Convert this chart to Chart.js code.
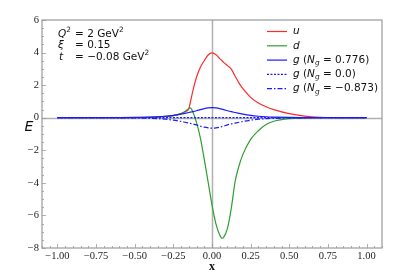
<!DOCTYPE html>
<html>
<head>
<meta charset="utf-8">
<script src="https://cdn.jsdelivr.net/npm/chart.js@4.4.1/dist/chart.umd.min.js"></script>
<style>
  body { margin: 0; background: #fff; }
  canvas { display: block; }
</style>
</head>
<body>
<canvas id="chart" width="420" height="280"></canvas>
<script>
const xs = [-1, -0.8, -0.6, -0.5, -0.4, -0.35, -0.3, -0.25, -0.2, -0.175, -0.15, -0.14, -0.125, -0.1, -0.075, -0.05, -0.025,
            0, 0.025, 0.05, 0.065, 0.075, 0.1, 0.125, 0.15, 0.175, 0.2, 0.25, 0.3, 0.35, 0.4, 0.5, 0.6, 0.7, 0.8, 1];

const uVals = [0, 0, 0, 0.01, 0.03, 0.05, 0.08, 0.13, 0.25, 0.36, 0.55, 0.95, 1.6, 2.5, 3.1, 3.5, 3.85,
               3.98, 3.88, 3.63, 3.5, 3.4, 3.2, 2.98, 2.55, 2.12, 1.78, 1.25, 0.9, 0.67, 0.5, 0.25, 0.1, 0.03, 0.01, 0];
const dVals = [0, 0, 0, 0.01, 0.03, 0.05, 0.08, 0.13, 0.25, 0.38, 0.57, 0.6, 0.38, -0.3, -1.25, -2.56, -3.95,
               -5.35, -6.5, -7.2, -7.4, -7.35, -6.8, -5.55, -3.9, -2.95, -2.25, -1.33, -0.8, -0.42, -0.22, -0.06, -0.02, 0, 0, 0];
const gPos = [0, 0, 0.005, 0.015, 0.04, 0.06, 0.09, 0.14, 0.22, 0.27, 0.32, 0.34, 0.37, 0.43, 0.5, 0.56, 0.6,
              0.62, 0.6, 0.56, 0.52, 0.5, 0.43, 0.37, 0.32, 0.27, 0.22, 0.14, 0.09, 0.06, 0.04, 0.015, 0.005, 0, 0, 0];
const gZero = xs.map(() => 0);
const gNeg = [0, 0, -0.005, -0.015, -0.04, -0.06, -0.09, -0.15, -0.23, -0.28, -0.33, -0.35, -0.38, -0.44, -0.52, -0.58, -0.62,
              -0.64, -0.62, -0.58, -0.54, -0.52, -0.44, -0.38, -0.33, -0.28, -0.23, -0.15, -0.09, -0.06, -0.04, -0.015, -0.005, 0, 0, 0];

const xTicks = [-1, -0.75, -0.5, -0.25, 0, 0.25, 0.5, 0.75, 1];
const yTicks = [-8, -6, -4, -2, 0, 2, 4, 6];

const RED = '#ff2a2a', GREEN = '#2e9e2e', BLUE = '#1a1aff';

function pts(vals) {
    return xs.map((x, i) => ({ x: x, y: vals[i] }));
}

const legendItems = [
    { color: RED, dash: [], parts: [['u', 'i']] },
    { color: GREEN, dash: [], parts: [['d', 'i']] },
    { color: BLUE, dash: [], parts: [['g', 'i'], [' (', 'n'], ['N', 'i'], ['g', 's'], [' = 0.776)', 'n']] },
    { color: BLUE, dash: [2, 1.5], parts: [['g', 'i'], [' (', 'n'], ['N', 'i'], ['g', 's'], [' = 0.0)', 'n']] },
    { color: BLUE, dash: [5, 2, 1.5, 2], parts: [['g', 'i'], [' (', 'n'], ['N', 'i'], ['g', 's'], [' = \u22120.873)', 'n']] }
];

function fmt(v, digits) {
    return v.toFixed(digits).replace('-', '\u2212');
}

// draws mixed italic / upright / subscript text, left aligned on a middle line
function drawParts(ctx, parts, x, y, size) {
    ctx.textBaseline = 'middle';
    ctx.textAlign = 'left';
    parts.forEach(p => {
        const txt = p[0], kind = p[1];
        let fs = size, dy = 0, style = '';
        if (kind === 'i') style = 'italic ';
        if (kind === 's') { style = 'italic '; fs = size * 0.7; dy = size * 0.3; }
        if (kind === 'p') { fs = size * 0.7; dy = -size * 0.35; }
        ctx.font = style + fs + 'px "DejaVu Sans"';
        ctx.fillText(txt, x, y + dy);
        x += ctx.measureText(txt).width;
    });
}

const decorPlugin = {
    id: 'decor',
    beforeDatasetsDraw(chart) {
        const ctx = chart.ctx, a = chart.chartArea;
        const xs_ = chart.scales.x, ys_ = chart.scales.y;
        ctx.save();
        ctx.strokeStyle = '#b0b0b0';
        ctx.lineWidth = 1.5;
        const x0 = Math.round(xs_.getPixelForValue(0)) + 0.5;
        const y0 = Math.round(ys_.getPixelForValue(0)) + 0.5;
        ctx.beginPath();
        ctx.moveTo(x0, a.top); ctx.lineTo(x0, a.bottom);
        ctx.moveTo(a.left, y0); ctx.lineTo(a.right, y0);
        ctx.stroke();
        ctx.restore();
    },
    afterDraw(chart) {
        const ctx = chart.ctx, a = chart.chartArea;
        const xs_ = chart.scales.x, ys_ = chart.scales.y;
        ctx.save();
        // frame
        ctx.strokeStyle = '#999';
        ctx.lineWidth = 1.2;
        ctx.strokeRect(a.left, a.top, a.right - a.left, a.bottom - a.top);

        // inward ticks, major and minor
        ctx.lineWidth = 0.8;
        ctx.beginPath();
        for (let k = -22; k <= 22; k++) {
            const v = k * 0.05;
            const px = Math.round(xs_.getPixelForValue(v)) + 0.5;
            const len = (k % 5 === 0) ? 4 : 2;
            ctx.moveTo(px, a.bottom); ctx.lineTo(px, a.bottom - len);
        }
        for (let k = -16; k <= 12; k++) {
            const v = k * 0.5;
            const py = Math.round(ys_.getPixelForValue(v)) + 0.5;
            const len = (k % 4 === 0) ? 4 : 2;
            ctx.moveTo(a.left, py); ctx.lineTo(a.left + len, py);
        }
        ctx.stroke();

        // annotation
        ctx.fillStyle = '#111';
        const fs = 10.5;
        drawParts(ctx, [['Q', 'i'], ['2', 'p']], 58, 34, fs);
        drawParts(ctx, [['= 2 GeV', 'n'], ['2', 'p']], 75, 34, fs);
        drawParts(ctx, [['\u03be', 'i']], 58, 45.5, fs);
        drawParts(ctx, [['= 0.15', 'n']], 75, 45.5, fs);
        drawParts(ctx, [['t', 'i']], 59, 57, fs);
        drawParts(ctx, [['= \u22120.08 GeV', 'n'], ['2', 'p']], 75, 57, fs);

        // legend
        legendItems.forEach((it, i) => {
            const y = 31.5 + i * 14.3;
            ctx.strokeStyle = it.color;
            ctx.lineWidth = 1.2;
            ctx.setLineDash(it.dash);
            ctx.beginPath();
            ctx.moveTo(267, y); ctx.lineTo(287, y);
            ctx.stroke();
            ctx.setLineDash([]);
            ctx.fillStyle = '#111';
            drawParts(ctx, it.parts, 293, y, 10.5);
        });

        // axis titles
        ctx.fillStyle = '#111';
        ctx.font = 'italic 14px "DejaVu Sans"';
        ctx.textAlign = 'center';
        ctx.textBaseline = 'middle';
        ctx.fillText('E', 29, 127);
        ctx.font = 'bold 12px "Liberation Serif"';
        ctx.fillText('x', xs_.getPixelForValue(0), 267);
        ctx.restore();
    }
};

const ctx = document.getElementById('chart').getContext('2d');
new Chart(ctx, {
    type: 'line',
    data: {
        datasets: [
            { label: 'u', data: pts(uVals), borderColor: RED, order: 5 },
            { label: 'd', data: pts(dVals), borderColor: GREEN, order: 4 },
            { label: 'g (Ng = 0.776)', data: pts(gPos), borderColor: BLUE, order: 3 },
            { label: 'g (Ng = 0.0)', data: pts(gZero), borderColor: BLUE, borderDash: [2, 1.5], order: 2 },
            { label: 'g (Ng = -0.873)', data: pts(gNeg), borderColor: BLUE, borderDash: [5, 2, 1.5, 2], order: 1 }
        ]
    },
    options: {
        responsive: false,
        animation: false,
        devicePixelRatio: 1,
        layout: { padding: { top: 20, right: 38, left: 0, bottom: 0 } },
        elements: {
            point: { radius: 0 },
            line: { borderWidth: 1.2, cubicInterpolationMode: 'monotone', fill: false }
        },
        plugins: {
            legend: { display: false },
            tooltip: { enabled: false }
        },
        scales: {
            x: {
                type: 'linear',
                min: -1.1,
                max: 1.1,
                grid: { display: false, drawTicks: false },
                border: { display: false },
                afterBuildTicks: s => { s.ticks = xTicks.map(v => ({ value: v })); },
                afterFit: s => { s.height = 32; },
                ticks: {
                    padding: 2,
                    color: '#222',
                    font: { family: '"Liberation Serif"', size: 10.5 },
                    maxRotation: 0,
                    callback: v => fmt(v, 2)
                }
            },
            y: {
                min: -8,
                max: 6,
                grid: { display: false, drawTicks: false },
                border: { display: false },
                afterBuildTicks: s => { s.ticks = yTicks.map(v => ({ value: v })); },
                afterFit: s => { s.width = 42; },
                ticks: {
                    padding: 3,
                    color: '#222',
                    font: { family: '"Liberation Serif"', size: 10.5 },
                    callback: v => fmt(v, 0)
                }
            }
        }
    },
    plugins: [decorPlugin]
});
</script>
</body>
</html>
